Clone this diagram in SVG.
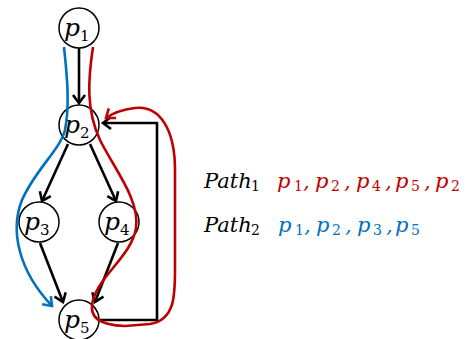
<svg xmlns="http://www.w3.org/2000/svg" width="466" height="339" viewBox="0 0 466 339">
  <style>
    .node circle { fill: #ffffff; stroke: #000000; stroke-width: 1.5; }
    .lbl { font-family: "DejaVu Serif", serif; font-style: italic; font-size: 25px; fill: #000000; }
    .lsub { font-family: "DejaVu Serif", serif; font-style: normal; font-size: 15px; fill: #000000; }
    .edge { fill: none; stroke: #000000; stroke-width: 2.6; }
    .red { fill: none; stroke: #C00000; stroke-width: 2.6; }
    .blue { fill: none; stroke: #0070C0; stroke-width: 2.6; }
    .txt { font-family: "DejaVu Serif", serif; font-style: italic; font-size: 21px; }
    .sub { font-family: "DejaVu Serif", serif; font-style: normal; font-size: 14px; }
  </style>
  <defs>
    <marker id="arrowBlack" markerUnits="userSpaceOnUse" markerWidth="20" markerHeight="20" refX="0" refY="0" viewBox="-12 -10 14 20" orient="auto">
      <path d="M-8,-6 L0,0 L-8,6" fill="none" stroke="#000000" stroke-width="2.6"/>
    </marker>
    <marker id="arrowRed" markerUnits="userSpaceOnUse" markerWidth="20" markerHeight="20" refX="0" refY="0" viewBox="-12 -10 14 20" orient="auto">
      <path d="M-8,-6 L0,0 L-8,6" fill="none" stroke="#C00000" stroke-width="2.6"/>
    </marker>
    <marker id="arrowBlue" markerUnits="userSpaceOnUse" markerWidth="20" markerHeight="20" refX="0" refY="0" viewBox="-12 -10 14 20" orient="auto">
      <path d="M-8,-6 L0,0 L-8,6" fill="none" stroke="#0070C0" stroke-width="2.6"/>
    </marker>
  </defs>

  <!-- graph edges -->
  <g id="connectors">
    <path class="edge" d="M79,48 L79,103" marker-end="url(#arrowBlack)"/>
    <path class="edge" d="M68,144 L42,201" marker-end="url(#arrowBlack)"/>
    <path class="edge" d="M90,144 L116,201" marker-end="url(#arrowBlack)"/>
    <path class="edge" d="M40,243 L63,302" marker-end="url(#arrowBlack)"/>
    <path class="edge" d="M118,243 L95,302" marker-end="url(#arrowBlack)"/>
    <path class="edge" d="M99,320 H157 V123 H103" marker-end="url(#arrowBlack)"/>
  </g>

  <!-- nodes -->
  <g id="p1" class="node">
    <circle cx="79" cy="28" r="20"/>
    <text class="lbl" x="64" y="36">p</text><text class="lsub" x="80" y="41">1</text>
  </g>
  <g id="p2" class="node">
    <circle cx="79" cy="125" r="20"/>
    <text class="lbl" x="64" y="133">p</text><text class="lsub" x="80" y="138">2</text>
  </g>
  <g id="p3" class="node">
    <circle cx="39" cy="222" r="20"/>
    <text class="lbl" x="24" y="230">p</text><text class="lsub" x="40" y="235">3</text>
  </g>
  <g id="p4" class="node">
    <circle cx="119" cy="222" r="20"/>
    <text class="lbl" x="104" y="230">p</text><text class="lsub" x="120" y="235">4</text>
  </g>
  <g id="p5" class="node">
    <circle cx="79" cy="320" r="20"/>
    <text class="lbl" x="64" y="328">p</text><text class="lsub" x="80" y="333">5</text>
  </g>

  <!-- traced paths -->
  <g id="paths">
    <path class="blue" d="M64,47 C67,75 70,105 65,130 C60,150 35,170 22,200 C10,230 18,270 52,306" marker-end="url(#arrowBlue)"/>
    <path class="red" d="M93,47 C88,80 86,110 100,140 C115,170 140,200 136,228 C132,255 100,275 93,300 C88,318 100,325 125,326 L150,324 C175,320 175,295 175,270 L175,170 C175,130 160,105 135,108 C120,110 110,115 106,118" marker-end="url(#arrowRed)"/>
  </g>

  <!-- legend -->
  <g id="legend">
    <text class="txt" x="204" y="188" fill="#000000">Path</text>
    <text class="sub" x="251" y="191" fill="#000000">1</text>
    <g fill="#C00000">
      <text class="txt" x="277" y="188">p</text><text class="sub" x="294" y="191">1</text><text class="txt" x="303" y="188">,</text>
      <text class="txt" x="315" y="188">p</text><text class="sub" x="331" y="191">2</text><text class="txt" x="344" y="188">,</text>
      <text class="txt" x="356" y="188">p</text><text class="sub" x="372" y="191">4</text><text class="txt" x="385" y="188">,</text>
      <text class="txt" x="395" y="188">p</text><text class="sub" x="411" y="191">5</text><text class="txt" x="424" y="188">,</text>
      <text class="txt" x="435" y="188">p</text><text class="sub" x="451" y="191">2</text>
    </g>
    <text class="txt" x="204" y="232" fill="#000000">Path</text>
    <text class="sub" x="251" y="235" fill="#000000">2</text>
    <g fill="#0070C0">
      <text class="txt" x="278" y="232">p</text><text class="sub" x="295" y="235">1</text><text class="txt" x="304" y="232">,</text>
      <text class="txt" x="316" y="232">p</text><text class="sub" x="332" y="235">2</text><text class="txt" x="345" y="232">,</text>
      <text class="txt" x="357" y="232">p</text><text class="sub" x="373" y="235">3</text><text class="txt" x="386" y="232">,</text>
      <text class="txt" x="395" y="232">p</text><text class="sub" x="411" y="235">5</text>
    </g>
  </g>
</svg>
